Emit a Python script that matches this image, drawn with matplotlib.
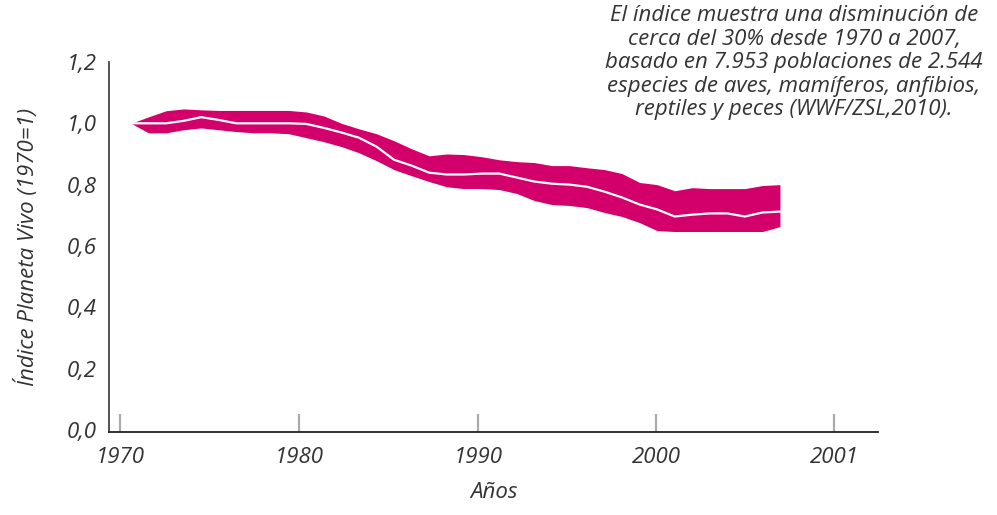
"""Índice Planeta Vivo, 1970-2007."""
import matplotlib
matplotlib.use('Agg')
import matplotlib.pyplot as plt

YEARS = list(range(1970, 2008))
CENTER = [1.0, 1.0, 1.0, 1.008, 1.02, 1.011, 1.0, 1.0, 1.0, 1.0,
          0.998, 0.985, 0.97, 0.953, 0.924, 0.881, 0.862, 0.839, 0.833, 0.833,
          0.836, 0.836, 0.823, 0.81, 0.803, 0.80, 0.793, 0.777, 0.758, 0.735,
          0.719, 0.696, 0.702, 0.706, 0.706, 0.696, 0.709, 0.712]
UPPER = [1.0, 1.021, 1.041, 1.047, 1.044, 1.042, 1.042, 1.042, 1.042, 1.042,
         1.037, 1.024, 1.0, 0.982, 0.966, 0.943, 0.917, 0.894, 0.9, 0.898,
         0.891, 0.881, 0.875, 0.872, 0.862, 0.862, 0.855, 0.849, 0.836, 0.807,
         0.8, 0.78, 0.79, 0.787, 0.787, 0.787, 0.797, 0.8]
LOWER = [1.0, 0.969, 0.969, 0.979, 0.985, 0.979, 0.973, 0.969, 0.969, 0.966,
         0.953, 0.94, 0.924, 0.904, 0.878, 0.849, 0.829, 0.81, 0.793, 0.787,
         0.787, 0.784, 0.771, 0.748, 0.735, 0.732, 0.725, 0.709, 0.696, 0.676,
         0.65, 0.647, 0.647, 0.647, 0.647, 0.647, 0.647, 0.663]

X_TICK_POS = [1969.37, 1979.58, 1989.78, 1999.93, 2010.08]
X_TICK_LABELS = ['1970', '1980', '1990', '2000', '2001']
Y_TICKS = [0.0, 0.2, 0.4, 0.6, 0.8, 1.0, 1.2]
Y_TICK_LABELS = ['0,0', '0,2', '0,4', '0,6', '0,8', '1,0', '1,2']

NOTE = ('El índice muestra una disminución de\n'
        'cerca del 30% desde 1970 a 2007,\n'
        'basado en 7.953 poblaciones de 2.544\n'
        'especies de aves, mamíferos, anfibios,\n'
        'reptiles y peces (WWF/ZSL,2010).')

MAGENTA = '#D3006C'
TEXT = '#333333'
FS = 16

plt.rcParams['font.family'] = ['Open Sans', 'DejaVu Sans']

fig = plt.figure(figsize=(9.97, 5.15), dpi=100)
W, H = 997, 515
ax = fig.add_axes([109 / W, 1 - 432 / H, (878 - 109) / W, (432 - 62) / H])

ax.fill_between(YEARS, LOWER, UPPER, color=MAGENTA, linewidth=0)
ax.plot(YEARS, CENTER, color='white', linewidth=1.6)

ax.set_xlim(1968.75, 2012.59)
ax.set_ylim(-0.007, 1.2)

ax.spines['top'].set_visible(False)
ax.spines['right'].set_visible(False)
ax.spines['left'].set_color('#444444')
ax.spines['bottom'].set_color('#222222')
ax.spines['left'].set_linewidth(1.3)
ax.spines['bottom'].set_linewidth(1.3)

ax.set_xticks(X_TICK_POS)
ax.set_xticklabels(X_TICK_LABELS, fontstyle='italic', fontsize=FS, color=TEXT)
ax.set_yticks(Y_TICKS)
ax.set_yticklabels(Y_TICK_LABELS, fontstyle='italic', fontsize=FS, color=TEXT)
ax.tick_params(axis='x', direction='in', length=13, width=1.6, color='#aaaaaa', pad=11)
ax.tick_params(axis='y', length=0, pad=9)

ax.set_xlabel('Años', fontstyle='italic', fontsize=FS, color=TEXT, labelpad=10)
ax.set_ylabel('Índice Planeta Vivo (1970=1)', fontstyle='italic', fontsize=FS,
              color=TEXT, labelpad=20)

fig.text(794 / W, 1 - 5 / H, NOTE, ha='center', va='top', fontstyle='italic',
         fontsize=16, color=TEXT, linespacing=1.16)

fig.savefig('out.png', dpi=100)
